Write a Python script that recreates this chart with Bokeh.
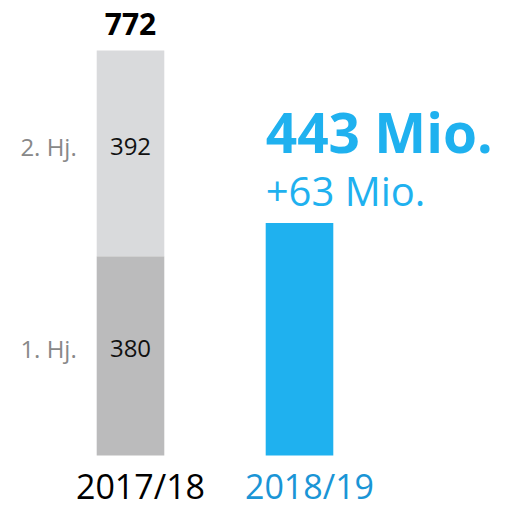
from bokeh.plotting import figure
from bokeh.models import Range1d, ColumnDataSource
from bokeh.core.properties import value
from bokeh.embed import file_html
from bokeh.resources import INLINE

# ---- data ----
years = ["2017/18", "2018/19"]
halves = ["1. Hj.", "2. Hj."]
prev_h1 = 380
prev_h2 = 392
current = 443
delta = 63

FONT = value("Open Sans")
LIGHT = "#d9dadc"
DARK = "#bbbbbc"
BLUE = "#1fb1ef"
BLUE_LABEL = "#1a95d6"
GRAY_TXT = "#888888"

BW = 0.4
xpos = list(range(len(years)))
K = 405 / 772  # pixels per unit

p = figure(width=493, height=507, output_backend="svg", toolbar_location=None,
           x_range=Range1d(-130 / 169, -130 / 169 + 493 / 169),
           y_range=Range1d(-52 / K, 455 / K),
           min_border=0)
p.axis.visible = False
p.grid.visible = False
p.outline_line_color = None
p.background_fill_color = None
p.border_fill_color = None

# stacked bar (previous year)
p.vbar(x=[xpos[0]], bottom=[0], top=[prev_h1], width=BW, fill_color=DARK, line_color=None)
p.vbar(x=[xpos[0]], bottom=[prev_h1], top=[prev_h1 + prev_h2], width=BW, fill_color=LIGHT, line_color=None)
# current year bar
p.vbar(x=[xpos[1]], bottom=[0], top=[current], width=BW, fill_color=BLUE, line_color=None)

# total label
p.text(x=[xpos[0]], y=[prev_h1 + prev_h2], text=[str(prev_h1 + prev_h2)], y_offset=-27,
       text_font=FONT, text_font_style="bold", text_font_size="30px", text_color="#000000",
       text_align="center", text_baseline="alphabetic")

# segment values
seg_src = ColumnDataSource(dict(
    x=[xpos[0], xpos[0]],
    y=[prev_h1 / 2, prev_h1 + prev_h2 / 2],
    v=[str(prev_h1), str(prev_h2)],
))
p.text(x="x", y="y", text="v", source=seg_src, y_offset=-7,
       text_font=FONT, text_font_size="24px", text_color="#111111",
       text_align="center", text_baseline="alphabetic")
p.text(x=[xpos[0] - BW / 2] * 2, y=seg_src.data["y"], text=halves, x_offset=-20, y_offset=-7,
       text_font=FONT, text_font_size="24px", text_color=GRAY_TXT,
       text_align="right", text_baseline="alphabetic")

# current value headline
p.text(x=[xpos[1] - BW / 2], y=[current], text=[f"{current} Mio."], y_offset=-92, x_offset=0,
       text_font=FONT, text_font_style="bold", text_font_size="55px", text_color=BLUE,
       text_align="left", text_baseline="alphabetic")
p.text(x=[xpos[1] - BW / 2], y=[current], text=[f"+{delta} Mio."], y_offset=-33, x_offset=0,
       text_font=FONT, text_font_size="40px", text_color=BLUE,
       text_align="left", text_baseline="alphabetic")

# category labels
p.text(x=xpos, y=[0, 0], text=years, x_offset=10, y_offset=30,
       text_font=FONT, text_font_size="34px", text_color=["#000000", BLUE_LABEL],
       text_align="center", text_baseline="alphabetic")

open("out.html", "w").write(file_html(p, INLINE))
